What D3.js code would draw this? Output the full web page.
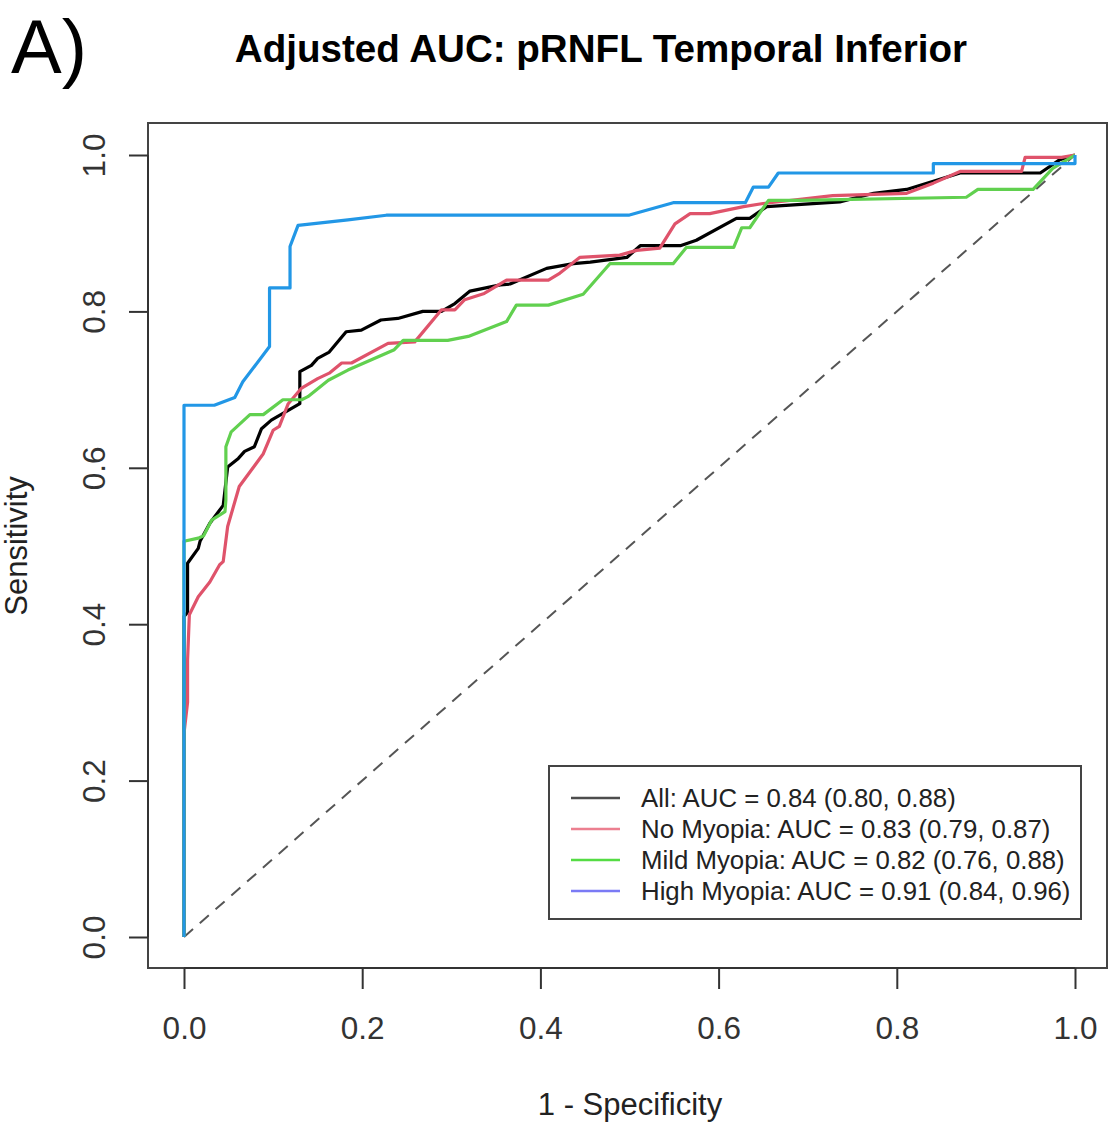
<!DOCTYPE html>
<html>
<head>
<meta charset="utf-8">
<script src="https://cdn.jsdelivr.net/npm/d3@7"></script>
<style>
  html, body { margin: 0; padding: 0; background: #fff; }
  svg { display: block; font-family: Arial, "Liberation Sans", sans-serif; }
</style>
</head>
<body>
<svg id="chart" width="1109" height="1127"></svg>
<script>
// ROC curves: false positive rate (1 - specificity) and sensitivity per group
const allFpr = [0, 0, 0.004, 0.004, 0.016, 0.018, 0.029, 0.044, 0.049, 0.061, 0.068, 0.079, 0.087, 0.098, 0.130, 0.130, 0.143, 0.150, 0.163, 0.182, 0.199, 0.221, 0.240, 0.268, 0.289, 0.304, 0.321, 0.355, 0.366, 0.407, 0.437, 0.456, 0.497, 0.512, 0.557, 0.575, 0.620, 0.635, 0.654, 0.736, 0.774, 0.811, 0.871, 0.961, 0.983, 1.0];
const allSens = [0, 0.41, 0.415, 0.478, 0.497, 0.506, 0.529, 0.552, 0.601, 0.612, 0.621, 0.627, 0.650, 0.661, 0.682, 0.723, 0.731, 0.740, 0.748, 0.774, 0.776, 0.789, 0.791, 0.800, 0.800, 0.810, 0.826, 0.834, 0.835, 0.855, 0.861, 0.863, 0.869, 0.884, 0.884, 0.891, 0.919, 0.919, 0.934, 0.940, 0.951, 0.956, 0.977, 0.977, 0.994, 1.0];

const noMyopiaFpr = [0, 0, 0.004, 0.004, 0.006, 0.016, 0.029, 0.040, 0.044, 0.049, 0.062, 0.089, 0.100, 0.107, 0.117, 0.132, 0.150, 0.163, 0.177, 0.188, 0.229, 0.259, 0.289, 0.304, 0.315, 0.337, 0.362, 0.409, 0.422, 0.444, 0.489, 0.508, 0.534, 0.551, 0.568, 0.590, 0.628, 0.650, 0.728, 0.811, 0.841, 0.871, 0.940, 0.944, 0.985, 1.0];
const noMyopiaSens = [0, 0.26, 0.30, 0.354, 0.412, 0.435, 0.454, 0.476, 0.480, 0.525, 0.576, 0.618, 0.648, 0.653, 0.682, 0.702, 0.714, 0.721, 0.734, 0.734, 0.759, 0.761, 0.802, 0.802, 0.815, 0.823, 0.840, 0.840, 0.849, 0.869, 0.872, 0.878, 0.881, 0.912, 0.925, 0.925, 0.934, 0.938, 0.948, 0.951, 0.964, 0.979, 0.979, 0.997, 0.997, 1.0];

const mildFpr = [0, 0, 0.016, 0.022, 0.031, 0.046, 0.047, 0.047, 0.053, 0.074, 0.089, 0.111, 0.132, 0.139, 0.162, 0.184, 0.236, 0.246, 0.296, 0.319, 0.362, 0.373, 0.409, 0.448, 0.478, 0.549, 0.564, 0.617, 0.626, 0.635, 0.656, 0.691, 0.878, 0.891, 0.953, 0.975, 1.0];
const mildSens = [0, 0.506, 0.510, 0.513, 0.533, 0.544, 0.559, 0.627, 0.646, 0.668, 0.668, 0.687, 0.687, 0.691, 0.712, 0.725, 0.751, 0.763, 0.763, 0.768, 0.787, 0.808, 0.808, 0.822, 0.861, 0.861, 0.882, 0.882, 0.907, 0.907, 0.942, 0.942, 0.946, 0.956, 0.956, 0.983, 1.0];

const highFpr = [0, 0, 0.034, 0.057, 0.066, 0.096, 0.096, 0.119, 0.119, 0.128, 0.184, 0.227, 0.499, 0.549, 0.630, 0.639, 0.656, 0.667, 0.841, 0.841, 1.0, 1.0];
const highSens = [0, 0.680, 0.680, 0.690, 0.710, 0.755, 0.830, 0.830, 0.883, 0.910, 0.917, 0.923, 0.923, 0.939, 0.939, 0.959, 0.959, 0.977, 0.977, 0.989, 0.989, 1.0];

const groupNames = ["All", "No Myopia", "Mild Myopia", "High Myopia"];
const aucValues = ["0.84", "0.83", "0.82", "0.91"];
const aucIntervals = [["0.80", "0.88"], ["0.79", "0.87"], ["0.76", "0.88"], ["0.84", "0.96"]];
const curveColors = ["#000000", "#DF536B", "#61D04F", "#2297E6"];
const legendColors = ["#4d4d4d", "#ec7f90", "#55dc44", "#7a7af5"];
const tickValues = [0, 0.2, 0.4, 0.6, 0.8, 1.0];

const curves = [
  { fpr: allFpr, sens: allSens },
  { fpr: noMyopiaFpr, sens: noMyopiaSens },
  { fpr: mildFpr, sens: mildSens },
  { fpr: highFpr, sens: highSens }
];

const svg = d3.select("#chart");

const x = d3.scaleLinear().domain([0, 1]).range([184, 1075]);
const y = d3.scaleLinear().domain([0, 1]).range([937, 155]);

const box = { left: 148, top: 123, right: 1107, bottom: 968 };

// Panel letter and title
svg.append("text")
  .attr("x", 11).attr("y", 73)
  .attr("font-size", 76)
  .attr("fill", "#000")
  .text("A)");

svg.append("text")
  .attr("x", 601).attr("y", 62)
  .attr("text-anchor", "middle")
  .attr("font-size", 38.6)
  .attr("font-weight", "bold")
  .attr("fill", "#000")
  .text("Adjusted AUC: pRNFL Temporal Inferior");

// Reference diagonal
svg.append("line")
  .attr("x1", x(0)).attr("y1", y(0))
  .attr("x2", x(1)).attr("y2", y(1))
  .attr("stroke", "#555")
  .attr("stroke-width", 2)
  .attr("stroke-dasharray", "12,9");

// ROC curves
const line = d3.line()
  .x(d => x(d[0]))
  .y(d => y(d[1]));

curves.forEach((c, i) => {
  const pts = c.fpr.map((f, j) => [f, c.sens[j]]);
  svg.append("path")
    .datum(pts)
    .attr("d", line)
    .attr("fill", "none")
    .attr("stroke", curveColors[i])
    .attr("stroke-width", 3.2)
    .attr("stroke-linejoin", "round");
});

// Plot frame
svg.append("rect")
  .attr("x", box.left).attr("y", box.top)
  .attr("width", box.right - box.left)
  .attr("height", box.bottom - box.top)
  .attr("fill", "none")
  .attr("stroke", "#444")
  .attr("stroke-width", 2);

// Axes
const fmt = d3.format(".1f");

const xAxis = svg.append("g")
  .attr("transform", `translate(0,${box.bottom})`)
  .call(d3.axisBottom(x).tickValues(tickValues).tickFormat(fmt).tickSize(21).tickPadding(28));
xAxis.select(".domain").attr("d", `M${x(0)},0H${x(1)}`).attr("stroke", "#333").attr("stroke-width", 2);
xAxis.selectAll(".tick line").attr("stroke", "#333").attr("stroke-width", 2);
xAxis.selectAll(".tick text")
  .attr("font-size", 31.5)
  .attr("font-family", "Arial, 'Liberation Sans', sans-serif")
  .attr("fill", "#333");

const yAxis = svg.append("g")
  .attr("transform", `translate(${box.left},0)`)
  .call(d3.axisLeft(y).tickValues(tickValues).tickFormat(fmt).tickSize(19));
yAxis.select(".domain").attr("d", `M0,${y(0)}V${y(1)}`).attr("stroke", "#333").attr("stroke-width", 2);
yAxis.selectAll(".tick line").attr("stroke", "#333").attr("stroke-width", 2);
yAxis.selectAll(".tick text")
  .attr("font-size", 31.5)
  .attr("font-family", "Arial, 'Liberation Sans', sans-serif")
  .attr("fill", "#333")
  .attr("x", null).attr("dy", null)
  .attr("text-anchor", "middle")
  .attr("transform", "translate(-43,0) rotate(-90)")
  .attr("y", 0);

// Axis titles
svg.append("text")
  .attr("x", 630).attr("y", 1115)
  .attr("text-anchor", "middle")
  .attr("font-size", 31)
  .attr("fill", "#222")
  .text("1 - Specificity");

svg.append("text")
  .attr("transform", "translate(27,546) rotate(-90)")
  .attr("text-anchor", "middle")
  .attr("font-size", 31)
  .attr("fill", "#222")
  .text("Sensitivity");

// Legend
const legend = svg.append("g");
legend.append("rect")
  .attr("x", 549).attr("y", 766)
  .attr("width", 532).attr("height", 153)
  .attr("fill", "#fff")
  .attr("stroke", "#444")
  .attr("stroke-width", 2);

groupNames.forEach((name, i) => {
  const cy = 798 + i * 31;
  legend.append("line")
    .attr("x1", 571).attr("x2", 620)
    .attr("y1", cy).attr("y2", cy)
    .attr("stroke", legendColors[i])
    .attr("stroke-width", 2.5);
  legend.append("text")
    .attr("x", 641).attr("y", cy + 9)
    .attr("font-size", 25.8)
    .attr("fill", "#222")
    .text(`${name}: AUC = ${aucValues[i]} (${aucIntervals[i][0]}, ${aucIntervals[i][1]})`);
});
</script>
</body>
</html>
